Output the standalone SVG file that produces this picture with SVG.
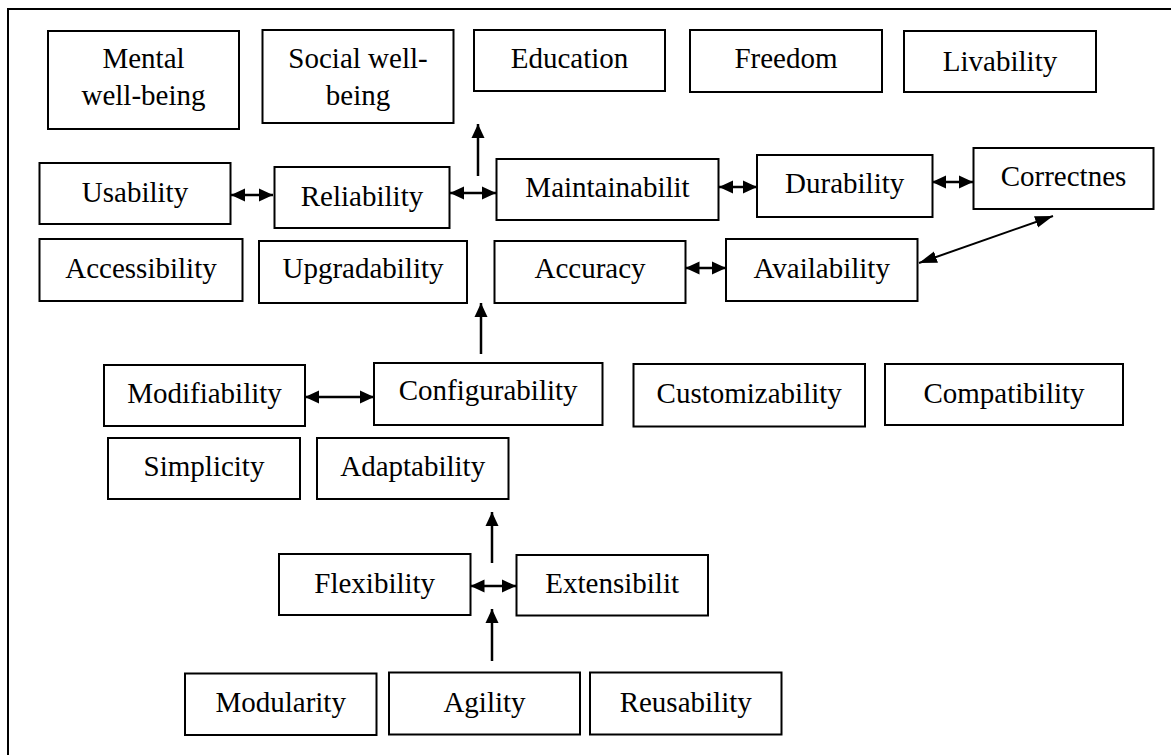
<svg xmlns="http://www.w3.org/2000/svg" width="1171" height="755" viewBox="0 0 1171 755">
<style>
.box{fill:#fff;stroke:#000;stroke-width:2}
.t{font-family:"Liberation Serif","Times New Roman",serif;font-size:29px;fill:#000;text-anchor:middle}
.c{stroke:#000;stroke-width:2.5;fill:none}
.d{stroke:#000;stroke-width:2;fill:none}
</style>
<defs>
<marker id="ah" markerUnits="userSpaceOnUse" markerWidth="15" markerHeight="14" refX="14" refY="7" orient="auto-start-reverse">
<path d="M0,0.5 L14,7 L0,13.5 z" fill="#000"/>
</marker>
<marker id="ah2" markerUnits="userSpaceOnUse" markerWidth="19" markerHeight="13" refX="18" refY="6.5" orient="auto-start-reverse">
<path d="M0,0.5 L18,6.5 L0,12.5 z" fill="#000"/>
</marker>
</defs>
<rect width="1171" height="755" fill="#fff"/>
<g id="frame"><path d="M8,755 L8,9 L1171,9" class="d"/></g>

<g id="mental"><rect class="box" x="48" y="31" width="191" height="98"/><text class="t" x="143.5" y="68">Mental</text><text class="t" x="143.5" y="105">well-being</text></g>
<g id="social"><rect class="box" x="262.5" y="30" width="191" height="93"/><text class="t" x="358" y="68">Social well-</text><text class="t" x="358" y="105">being</text></g>
<g id="education"><rect class="box" x="474" y="30" width="191" height="61"/><text class="t" x="569.5" y="68">Education</text></g>
<g id="freedom"><rect class="box" x="690" y="30" width="192" height="62"/><text class="t" x="786" y="68">Freedom</text></g>
<g id="livability"><rect class="box" x="904" y="31" width="192" height="61"/><text class="t" x="1000" y="71">Livability</text></g>

<g id="usability"><rect class="box" x="39.5" y="163" width="191" height="61"/><text class="t" x="135" y="202">Usability</text></g>
<g id="reliability"><rect class="box" x="274.5" y="167" width="175" height="61"/><text class="t" x="362" y="206">Reliability</text></g>
<g id="maintainability"><rect class="box" x="496.5" y="159" width="222" height="61"/><text class="t" x="607.5" y="197">Maintainabilit</text></g>
<g id="durability"><rect class="box" x="757" y="155" width="175.5" height="62"/><text class="t" x="844.7" y="193">Durability</text></g>
<g id="correctness"><rect class="box" x="973.5" y="148" width="180" height="61"/><text class="t" x="1063.5" y="186">Correctnes</text></g>

<g id="accessibility"><rect class="box" x="39.5" y="239" width="203" height="62"/><text class="t" x="141" y="278">Accessibility</text></g>
<g id="upgradability"><rect class="box" x="259" y="241" width="208" height="62"/><text class="t" x="363" y="278">Upgradability</text></g>
<g id="accuracy"><rect class="box" x="494.5" y="241" width="191" height="62"/><text class="t" x="590" y="278">Accuracy</text></g>
<g id="availability"><rect class="box" x="726" y="239" width="191.5" height="62"/><text class="t" x="821.7" y="278">Availability</text></g>

<g id="modifiability"><rect class="box" x="104" y="365" width="201" height="61"/><text class="t" x="204.5" y="403">Modifiability</text></g>
<g id="configurability"><rect class="box" x="374" y="363" width="228.5" height="62"/><text class="t" x="488.2" y="400">Configurability</text></g>
<g id="customizability"><rect class="box" x="633.5" y="364" width="231.5" height="62.5"/><text class="t" x="749.2" y="403">Customizability</text></g>
<g id="compatibility"><rect class="box" x="885" y="364" width="238" height="61"/><text class="t" x="1004" y="403">Compatibility</text></g>

<g id="simplicity"><rect class="box" x="108" y="438" width="192" height="61"/><text class="t" x="204" y="476">Simplicity</text></g>
<g id="adaptability"><rect class="box" x="317" y="438" width="191.5" height="61"/><text class="t" x="412.7" y="476">Adaptability</text></g>

<g id="flexibility"><rect class="box" x="279" y="554" width="191.5" height="61"/><text class="t" x="374.7" y="593">Flexibility</text></g>
<g id="extensibility"><rect class="box" x="516.5" y="555" width="191.5" height="60.5"/><text class="t" x="612.2" y="593">Extensibilit</text></g>

<g id="modularity"><rect class="box" x="185" y="673.5" width="191.5" height="61.5"/><text class="t" x="280.7" y="712">Modularity</text></g>
<g id="agility"><rect class="box" x="389" y="672.5" width="191" height="62"/><text class="t" x="484.5" y="712">Agility</text></g>
<g id="reusability"><rect class="box" x="590" y="672.5" width="191.5" height="62"/><text class="t" x="685.7" y="712">Reusability</text></g>

<g id="connectors">
<line class="c" x1="231" y1="195" x2="273" y2="195" marker-start="url(#ah)" marker-end="url(#ah)"/>
<line class="c" x1="450" y1="193" x2="496" y2="193" marker-start="url(#ah)" marker-end="url(#ah)"/>
<line class="c" x1="478" y1="176" x2="478" y2="124" marker-end="url(#ah)"/>
<line class="c" x1="719" y1="187" x2="757" y2="187" marker-start="url(#ah)" marker-end="url(#ah)"/>
<line class="c" x1="932" y1="182" x2="973" y2="182" marker-start="url(#ah)" marker-end="url(#ah)"/>
<line class="d" x1="919" y1="263" x2="1053" y2="216" marker-start="url(#ah2)" marker-end="url(#ah2)"/>
<line class="c" x1="685.5" y1="268" x2="726" y2="268" marker-start="url(#ah)" marker-end="url(#ah)"/>
<line class="c" x1="481" y1="354" x2="481" y2="303" marker-end="url(#ah)"/>
<line class="c" x1="305" y1="397" x2="374" y2="397" marker-start="url(#ah)" marker-end="url(#ah)"/>
<line class="c" x1="492" y1="563" x2="492" y2="512" marker-end="url(#ah)"/>
<line class="c" x1="470.5" y1="586" x2="516" y2="586" marker-start="url(#ah)" marker-end="url(#ah)"/>
<line class="c" x1="492" y1="661" x2="492" y2="609" marker-end="url(#ah)"/>
</g>
</svg>
